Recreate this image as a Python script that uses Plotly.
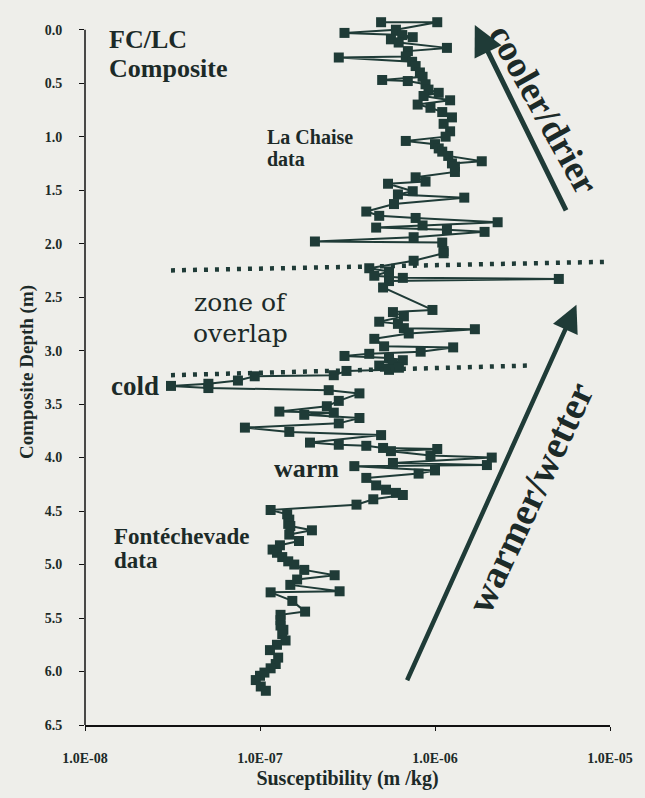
import plotly.graph_objects as go

# ---- data (depth in m, susceptibility in m^3/kg) ----
depth = [
    -0.07, -0.07, 0.00, 0.03, 0.05, 0.07, 0.09, 0.12, 0.17, 0.20, 0.25, 0.26, 0.30, 0.34, 0.40,
    0.44, 0.47, 0.48, 0.51, 0.56, 0.59, 0.62, 0.66, 0.70, 0.73, 0.77, 0.82, 0.88, 0.95, 1.00,
    1.04, 1.07, 1.11, 1.14, 1.18, 1.23, 1.25, 1.28, 1.33, 1.38, 1.42, 1.44, 1.51, 1.54, 1.57,
    1.63, 1.70, 1.74, 1.76, 1.80, 1.83, 1.85, 1.87, 1.89, 1.94, 1.98, 1.99, 2.07, 2.09, 2.16,
    2.23, 2.26, 2.30, 2.32, 2.33, 2.35, 2.41, 2.62, 2.64, 2.68, 2.73, 2.75, 2.79, 2.80, 2.84,
    2.89, 2.96, 2.97, 3.01, 3.03, 3.05, 3.07, 3.09, 3.12, 3.14, 3.16, 3.18, 3.19, 3.23, 3.24,
    3.28, 3.31, 3.33, 3.35, 3.37, 3.40, 3.47, 3.52, 3.57, 3.58, 3.60, 3.63, 3.68, 3.72, 3.76,
    3.79, 3.86, 3.88, 3.89, 3.91, 3.92, 3.94, 3.98, 4.00, 4.05, 4.07, 4.08, 4.12, 4.15, 4.19,
    4.26, 4.30, 4.33, 4.35, 4.39, 4.44, 4.49, 4.53, 4.58, 4.62, 4.64, 4.68, 4.72, 4.78, 4.82,
    4.86, 4.89, 4.93, 4.97, 5.00, 5.05, 5.10, 5.14, 5.19, 5.25, 5.26, 5.34, 5.44, 5.47, 5.52,
    5.57, 5.61, 5.65, 5.71, 5.75, 5.80, 5.87, 5.93, 5.97, 6.01, 6.04, 6.08, 6.14, 6.18,
]
susceptibility = [
    4.92e-7, 1.03e-6, 5.98e-7, 3.04e-7, 6.5e-7, 7.46e-7, 5.60e-7, 6.2e-7, 1.17e-6, 7.0e-7, 6.81e-7, 2.82e-7, 7.4e-7, 7.75e-7, 8.2e-7,
    8.49e-7, 4.99e-7, 6.99e-7, 8.83e-7, 9.18e-7, 1.05e-6, 8.60e-7, 1.22e-6, 7.96e-7, 9.42e-7, 1.10e-6, 1.25e-6, 1.12e-6, 1.22e-6, 1.15e-6,
    6.81e-7, 1.00e-6, 1.05e-6, 1.10e-6, 1.19e-6, 1.85e-6, 1.25e-6, 1.30e-6, 1.30e-6, 7.75e-7, 8.83e-7, 5.39e-7, 7.46e-7, 6.14e-7, 1.47e-6,
    5.83e-7, 4.05e-7, 4.80e-7, 7.75e-7, 2.28e-6, 8.49e-7, 4.61e-7, 1.17e-6, 1.92e-6, 7.55e-7, 2.06e-7, 1.10e-6, 1.12e-6, 1.12e-6, 7.55e-7,
    4.21e-7, 5.46e-7, 4.50e-7, 6.55e-7, 5.10e-6, 5.46e-7, 5.05e-7, 9.67e-7, 5.75e-7, 6.64e-7, 4.80e-7, 6.14e-7, 6.64e-7, 1.69e-6, 7.08e-7,
    4.50e-7, 5.12e-7, 1.27e-6, 8.28e-7, 4.21e-7, 3.04e-7, 5.46e-7, 6.55e-7, 5.75e-7, 4.80e-7, 6.22e-7, 5.46e-7, 3.12e-7, 2.64e-7, 9.33e-8,
    7.48e-8, 5.07e-8, 3.10e-8, 5.07e-8, 2.47e-7, 3.70e-7, 2.82e-7, 2.41e-7, 1.29e-7, 2.64e-7, 1.79e-7, 3.70e-7, 2.82e-7, 8.20e-8, 1.47e-7,
    4.92e-7, 1.93e-7, 2.82e-7, 4.05e-7, 5.05e-7, 1.03e-6, 5.60e-7, 9.42e-7, 2.11e-6, 5.75e-7, 1.98e-6, 3.46e-7, 1.00e-6, 8.06e-7, 4.05e-7,
    4.61e-7, 5.25e-7, 5.98e-7, 6.55e-7, 4.44e-7, 3.56e-7, 1.15e-7, 1.43e-7, 1.47e-7, 1.45e-7, 1.49e-7, 1.98e-7, 1.47e-7, 1.67e-7, 1.30e-7,
    1.18e-7, 1.25e-7, 1.34e-7, 1.45e-7, 1.57e-7, 1.79e-7, 2.67e-7, 1.63e-7, 1.49e-7, 2.85e-7, 1.15e-7, 1.53e-7, 1.81e-7, 1.31e-7, 1.31e-7,
    1.31e-7, 1.36e-7, 1.34e-7, 1.40e-7, 1.25e-7, 1.14e-7, 1.27e-7, 1.23e-7, 1.15e-7, 1.06e-7, 1.00e-7, 9.46e-8, 1.01e-7, 1.08e-7,
]

x_tickvals = [1e-8, 1e-7, 1e-6, 1e-5]
x_ticktext = ["1.0E-08", "1.0E-07", "1.0E-06", "1.0E-05"]
y_tickvals = [0.0, 0.5, 1.0, 1.5, 2.0, 2.5, 3.0, 3.5, 4.0, 4.5, 5.0, 5.5, 6.0, 6.5]
y_ticktext = [f"{v:.1f}" for v in y_tickvals]

# overlap zone boundaries (depth, susceptibility ends)
upper_zone = dict(x=[3.1e-8, 9.6e-6], y=[2.25, 2.17])
lower_zone = dict(x=[3.1e-8, 3.4e-6], y=[3.23, 3.14])

INK = "#1f3b37"
TXT = "#1c2a28"
BG = "#eeeeea"
SERIF = "Liberation Serif"

fig = go.Figure()
fig.add_trace(go.Scatter(
    x=susceptibility, y=depth, mode="lines+markers",
    line=dict(color=INK, width=2),
    marker=dict(symbol="square", size=10, color=INK),
    cliponaxis=False, showlegend=False,
))

W, H = 645, 798
L, R, T, B = 85, 28, 19, 70
pw, ph = W - L - R, H - T - B

def px(xp):
    return (xp - L) / pw

def py(yp):
    return (H - B - yp) / ph

def label(text, x, y, size, bold=True, xanchor="left", family=SERIF, angle=0):
    fig.add_annotation(
        text=f"<b>{text}</b>" if bold else text,
        x=px(x), y=py(y), xref="paper", yref="paper",
        xanchor=xanchor, yanchor="middle", showarrow=False,
        textangle=angle, font=dict(family=family, size=size, color=TXT),
    )

label("FC/LC", 107, 40, 26)
label("Composite", 107, 69, 26)
label("La Chaise", 267, 137, 20)
label("data", 267, 160, 20)
label("zone of", 243, 304, 25, bold=False, xanchor="center", family="DejaVu Serif")
label("overlap", 243, 335, 25, bold=False, xanchor="center", family="DejaVu Serif")
label("cold", 109, 388, 27)
label("warm", 274, 470, 26)
label("Fontéchevade", 112, 539, 23)
label("data", 112, 563, 23)
label("cooler/drier", 550, 110, 37, xanchor="center", angle=61)
label("warmer/wetter", 536, 500, 39, xanchor="center", angle=-65)

# arrows
fig.add_annotation(text="", x=px(480), y=py(25), xref="paper", yref="paper",
                   ax=92, ay=187, showarrow=True, arrowhead=2, arrowsize=1.2,
                   arrowwidth=5, arrowcolor=INK, standoff=0)
fig.add_annotation(text="", x=px(583), y=py(306), xref="paper", yref="paper",
                   ax=-170, ay=377, showarrow=True, arrowhead=2, arrowsize=1.2,
                   arrowwidth=4.5, arrowcolor=INK, standoff=0)

# dotted zone lines
for z in (upper_zone, lower_zone):
    fig.add_shape(type="line", xref="x", yref="y",
                  x0=z["x"][0], x1=z["x"][1], y0=z["y"][0], y1=z["y"][1],
                  line=dict(color=INK, width=4.5, dash="4px,7px"))

# y axis line from 0 to 6.5 only
fig.add_shape(type="line", xref="paper", yref="y", x0=0, x1=0, y0=0, y1=6.5,
              line=dict(color="#111", width=1.5))

fig.update_xaxes(
    type="log", range=[-8, -5], tickvals=x_tickvals,
    ticktext=[f"<b>{t}</b>" for t in x_ticktext],
    showgrid=False, zeroline=False, showline=True, linecolor="#111", linewidth=1.5,
    ticks="outside", ticklen=4, tickwidth=1.2, tickcolor="#111",
    ticklabelstandoff=15,
    tickfont=dict(family=SERIF, size=14, color=TXT),
    title=dict(text="<b>Susceptibility (m /kg)</b>", standoff=6,
               font=dict(family=SERIF, size=20, color=TXT)),
)
fig.update_yaxes(
    range=[6.5, -0.1], tickvals=y_tickvals,
    ticktext=[f"<b>{t}</b>" for t in y_ticktext],
    showgrid=False, zeroline=False, showline=False,
    ticks="outside", ticklen=5, tickwidth=1.2, tickcolor="#111",
    ticklabelstandoff=14,
    tickfont=dict(family=SERIF, size=14, color=TXT),
    title=dict(text="<b>Composite Depth (m)</b>", standoff=6,
               font=dict(family=SERIF, size=19, color=TXT)),
)

fig.update_layout(
    width=W, height=H, margin=dict(l=L, r=R, t=T, b=B),
    paper_bgcolor=BG, plot_bgcolor=BG, showlegend=False,
)

fig.write_html("out.html")
